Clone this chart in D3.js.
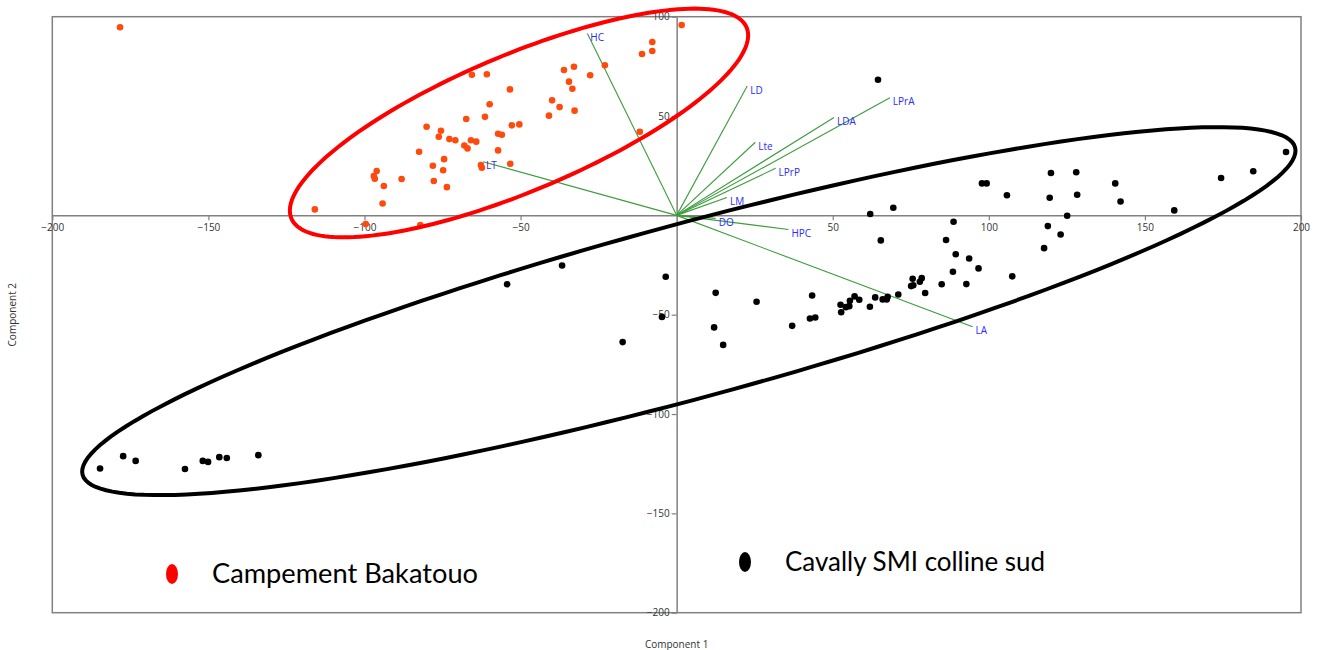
<!DOCTYPE html>
<html>
<head>
<meta charset="utf-8">
<script src="https://cdn.jsdelivr.net/npm/d3@7/dist/d3.min.js"></script>
<style>
  body { margin: 0; background: #fff; }
  svg { display: block; }
  .tick text { font-family: "Open Sans", "Noto Sans", sans-serif; font-size: 10px; fill: #333; }
</style>
</head>
<body>
<svg id="chart" width="1318" height="650"></svg>
<script>
// group 1 : Campement Bakatouo  [component 1, component 2]
var bakatouo = [
	[-178.3, 94.7], [-115.9, 3.0], [-99.6, -4.4], [-82.1, -4.9], [-96.1, 22.3], [-97.0, 19.8],
	[-96.7, 18.4], [-93.8, 14.8], [-94.2, 6.0], [-88.1, 18.3], [-82.5, 32.0], [-80.1, 44.6],
	[-78.1, 25.0], [-77.8, 17.3], [-76.2, 39.6], [-75.5, 42.6], [-74.5, 28.3], [-74.8, 22.7],
	[-73.6, 14.2], [-72.8, 38.4], [-70.9, 37.8], [-68.0, 35.2], [-67.0, 33.7], [-67.4, 48.5],
	[-65.9, 37.8], [-64.2, 37.1], [-62.7, 25.3], [-62.4, 24.0], [-61.4, 49.6], [-59.9, 55.9],
	[-57.2, 41.1], [-56.0, 40.6], [-57.2, 32.7], [-53.3, 26.0], [-52.8, 45.3], [-50.4, 45.8],
	[-65.6, 70.8], [-60.8, 71.0], [-53.4, 63.4], [-40.9, 50.2], [-39.9, 57.9], [-37.5, 54.5],
	[-36.1, 73.2], [-34.5, 67.3], [-33.4, 63.7], [-32.9, 74.8], [-32.7, 52.7], [-27.7, 70.5],
	[-23.0, 75.5], [-11.8, 42.1], [-11.1, 81.2], [-7.8, 87.3], [-7.8, 82.7], [1.6, 95.8]
];

// group 2 : Cavally SMI colline sud
var cavally = [
	[-184.7, -127.4], [-177.3, -121.2], [-173.3, -123.6], [-157.5, -127.7], [-151.8, -123.6],
	[-150.1, -124.1], [-146.5, -121.7], [-144.1, -122.1], [-134.0, -120.7], [-54.3, -34.7],
	[-36.7, -25.2], [-3.5, -30.9], [-4.7, -51.1], [-17.3, -63.8], [12.5, -39.0], [12.0, -56.4],
	[14.9, -65.2], [25.6, -43.5], [37.0, -55.6], [43.4, -40.3], [42.7, -51.9], [44.4, -51.4],
	[52.5, -45.0], [52.7, -48.8], [54.2, -46.2], [55.3, -45.7], [55.5, -43.0], [57.0, -40.8],
	[58.5, -42.5], [61.9, -46.0], [63.6, -41.3], [66.0, -42.3], [67.3, -42.3], [67.6, -41.0],
	[71.0, -39.8], [75.1, -35.6], [75.8, -35.2], [75.6, -31.9], [78.5, -31.6], [77.9, -33.4],
	[79.6, -39.1], [84.9, -34.7], [88.5, -28.4], [92.8, -34.6], [96.7, -26.7], [93.7, -21.7],
	[89.4, -19.6], [86.3, -12.4], [88.7, -3.2], [65.4, -12.6], [62.0, 0.7], [69.4, 3.8],
	[64.5, 68.3], [97.8, 16.1], [99.3, 16.1], [105.8, 10.1], [107.5, -30.7], [117.7, -16.5],
	[118.9, -5.4], [123.0, -9.6], [125.1, -0.2], [119.5, 8.9], [119.9, 21.3], [128.0, 21.7],
	[128.3, 10.4], [140.5, 16.1], [142.2, 7.0], [159.4, 2.5], [174.4, 18.8], [184.7, 22.2],
	[195.2, 31.9]
];

// loadings (biplot vectors)
var varNames = ["HC", "LD", "Lte", "LDA", "LPrA", "LPrP", "LM", "DO", "HPC", "LA", "LT"];
var varX = [-28.6, 22.6, 25.2, 50.4, 68.3, 31.7, 16.1, 12.5, 35.8, 94.8, -62.0];
var varY = [91.6, 65.1, 36.8, 49.3, 59.2, 23.7, 9.0, -1.5, -7.1, -56.1, 27.0];

// group ellipses : centre, first and second conjugate semi-axis (data units)
var ellipseBakatouo = [-50.5, 46.5, 73.4, 44.1, 0, -37.0];
var ellipseCavally = [3.9, -48.2, 194.2, 82.4, 7.3, -42.3];

var xTicks = [-200, -150, -100, -50, 50, 100, 150, 200];
var yTicks = [100, 50, -50, -100, -150, -200];
var legendNames = ["Campement Bakatouo", "Cavally SMI colline sud"];

var svg = d3.select("#chart"),
	margin = {top: 16.7, right: 17, bottom: 37.3, left: 52.3},
	width = svg.attr("width") - margin.left - margin.right,
	height = svg.attr("height") - margin.top - margin.bottom;

var g = svg.append("g").attr("transform", "translate(" + margin.left + "," + margin.top + ")");

var x = d3.scaleLinear().domain([-200, 200]).range([0, width]),
	y = d3.scaleLinear().domain([-200, 100]).range([height, 0]);

// frame
g.append("rect")
	.attr("width", width)
	.attr("height", height)
	.attr("fill", "none")
	.attr("stroke", "#808080")
	.attr("stroke-width", 1.5);

// axes through the origin
var xAxis = g.append("g")
	.attr("transform", "translate(0," + y(0) + ")")
	.call(d3.axisBottom(x).tickValues(xTicks).tickSize(5).tickSizeOuter(0).tickPadding(4));
var yAxis = g.append("g")
	.attr("transform", "translate(" + x(0) + ",0)")
	.call(d3.axisLeft(y).tickValues(yTicks).tickSize(5).tickSizeOuter(0).tickPadding(2));

[xAxis, yAxis].forEach(function(a){
	a.select(".domain").attr("stroke", "#808080").attr("stroke-width", 1.5);
	a.selectAll(".tick line").attr("stroke", "#808080").attr("stroke-width", 1.2);
});

// axis titles
g.append("text")
	.attr("x", width / 2)
	.attr("y", height + 35)
	.attr("text-anchor", "middle")
	.style("font", "10px 'Open Sans', sans-serif")
	.attr("fill", "#333")
	.text("Component 1");

g.append("text")
	.attr("transform", "translate(" + (-36) + "," + (height / 2) + ") rotate(-90)")
	.attr("text-anchor", "middle")
	.style("font", "10px 'Open Sans', sans-serif")
	.attr("fill", "#333")
	.text("Component 2");

// loadings
var vars = varNames.map(function(n, i){ return {name: n, x: varX[i], y: varY[i]}; });

g.selectAll(".load")
	.data(vars)
	.enter().append("line")
	.attr("class", "load")
	.attr("x1", x(0)).attr("y1", y(0))
	.attr("x2", function(d){ return x(d.x); })
	.attr("y2", function(d){ return y(d.y); })
	.attr("stroke", "#3c9c3c")
	.attr("stroke-width", 1.1);

g.selectAll(".loadlabel")
	.data(vars)
	.enter().append("text")
	.attr("class", "loadlabel")
	.attr("x", function(d){ return x(d.x) + 3; })
	.attr("y", function(d){ return y(d.y) + 4; })
	.attr("dy", "0.35em")
	.style("font", "10px 'Open Sans', sans-serif")
	.attr("fill", "#2b2bff")
	.text(function(d){ return d.name; });

// points
g.selectAll(".pb")
	.data(bakatouo)
	.enter().append("circle")
	.attr("class", "pb")
	.attr("cx", function(d){ return x(d[0]); })
	.attr("cy", function(d){ return y(d[1]); })
	.attr("r", 3.3)
	.attr("fill", "#ff4a0d");

g.selectAll(".pc")
	.data(cavally)
	.enter().append("circle")
	.attr("class", "pc")
	.attr("cx", function(d){ return x(d[0]); })
	.attr("cy", function(d){ return y(d[1]); })
	.attr("r", 3.3)
	.attr("fill", "#000");

// ellipses
function ellipsePath(e){
	var pts = d3.range(0, 361, 2).map(function(a){
		var t = a * Math.PI / 180;
		return [x(e[0] + e[2] * Math.cos(t) + e[4] * Math.sin(t)),
				y(e[1] + e[3] * Math.cos(t) + e[5] * Math.sin(t))];
	});
	return d3.line()(pts) + "Z";
}

g.append("path")
	.attr("d", ellipsePath(ellipseBakatouo))
	.attr("fill", "none")
	.attr("stroke", "#ff0000")
	.attr("stroke-width", 4);

g.append("path")
	.attr("d", ellipsePath(ellipseCavally))
	.attr("fill", "none")
	.attr("stroke", "#000")
	.attr("stroke-width", 4);

// legend
var legend = svg.append("g");
var legendPos = [[172, 574], [745, 562]];
var legendColor = ["#ff0000", "#000"];
var legendWidth = [266, 260];

legendNames.forEach(function(name, i){
	legend.append("ellipse")
		.attr("cx", legendPos[i][0])
		.attr("cy", legendPos[i][1])
		.attr("rx", 6)
		.attr("ry", 10)
		.attr("fill", legendColor[i]);
	legend.append("text")
		.attr("x", legendPos[i][0] + 40)
		.attr("y", legendPos[i][1] + 9)
		.attr("textLength", legendWidth[i])
		.attr("lengthAdjust", "spacingAndGlyphs")
		.style("font", "26px Lato, 'Open Sans', sans-serif")
		.attr("fill", "#000")
		.text(name);
});
</script>
</body>
</html>
